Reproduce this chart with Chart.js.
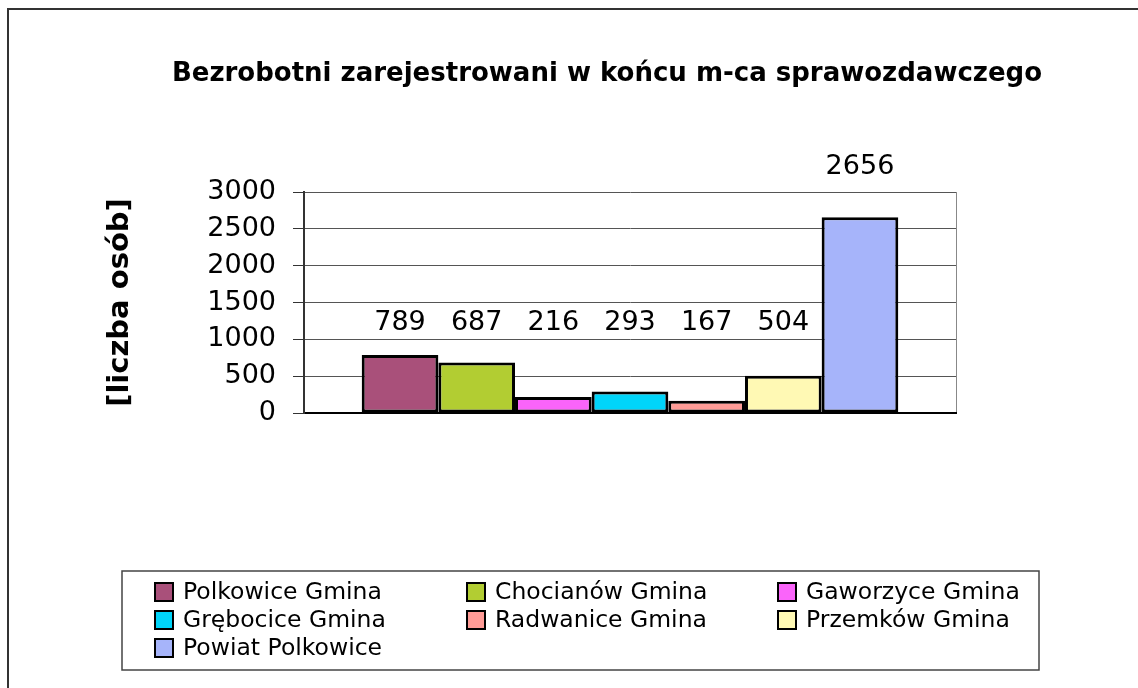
<!DOCTYPE html>
<html>
<head>
<meta charset="utf-8">
<script src="https://cdn.jsdelivr.net/npm/chart.js@4"></script>
<style>
    body { margin: 0; background: #fff; overflow: hidden; }
    #frame {
        position: absolute; left: 7px; top: 8px; width: 1300px; height: 900px;
        border: 2px solid #333; box-sizing: border-box;
    }
    #bezrobocie { position: absolute; left: 0; top: 0; }
</style>
</head>
<body>
<div id="frame"></div>
<canvas id="bezrobocie" width="1138" height="688"></canvas>
<script>
const FONT = '"Comic Sans MS", "DejaVu Sans", sans-serif';

const chartTitle = "Bezrobotni zarejestrowani w końcu m-ca sprawozdawczego";
const axisTitle = "[liczba osób]";
const categories = [""];
const seriesNames = [
    "Polkowice Gmina", "Chocianów Gmina", "Gaworzyce Gmina",
    "Grębocice Gmina", "Radwanice Gmina", "Przemków Gmina", "Powiat Polkowice"
];
const seriesValues = [789, 687, 216, 293, 167, 504, 2656];
const seriesColors = ["#A9507A", "#B2CD32", "#FA64FA", "#00D5FA", "#FF9B96", "#FFF9B4", "#A6B4FA"];
const yTicks = [0, 500, 1000, 1500, 2000, 2500, 3000];

// title drawn by hand so it can sit off-centre like the original
const titlePlugin = {
    id: "titleText",
    afterDraw(chart) {
        const ctx = chart.ctx;
        ctx.save();
        ctx.font = "bold 26px " + FONT;
        ctx.fillStyle = "#000";
        ctx.textAlign = "center";
        ctx.textBaseline = "alphabetic";
        ctx.fillText(chartTitle, 607, 81);
        ctx.restore();
    }
};

// value labels above bars
const valueLabels = {
    id: "valueLabels",
    afterDatasetsDraw(chart) {
        const ctx = chart.ctx;
        const yScale = chart.scales.y;
        const common = yScale.getPixelForValue(1220);
        ctx.save();
        ctx.font = "27px " + FONT;
        ctx.fillStyle = "#000";
        ctx.textAlign = "center";
        ctx.textBaseline = "middle";
        chart.data.datasets.forEach((ds, i) => {
            const bar = chart.getDatasetMeta(i).data[0];
            const y = common < bar.y - 20 ? common : bar.y - 50;
            ctx.fillText(String(ds.data[0]), bar.x, y);
        });
        ctx.restore();
    }
};

// Excel style legend in a 3 column grid
const gridLegend = {
    id: "gridLegend",
    afterDraw(chart) {
        const ctx = chart.ctx;
        const cols = [154, 466, 777];
        const rows = [592, 620, 648];
        ctx.save();
        ctx.strokeStyle = "#444";
        ctx.lineWidth = 1.5;
        ctx.strokeRect(122, 571, 917, 99);
        ctx.font = "23.5px " + FONT;
        ctx.textBaseline = "middle";
        ctx.textAlign = "left";
        chart.data.datasets.forEach((ds, i) => {
            const x = cols[i % 3];
            const y = rows[Math.floor(i / 3)];
            ctx.fillStyle = ds.backgroundColor;
            ctx.fillRect(x, y - 10, 20, 20);
            ctx.strokeStyle = "#000";
            ctx.lineWidth = 2;
            ctx.strokeRect(x + 1, y - 9, 18, 18);
            ctx.fillStyle = "#000";
            ctx.fillText(ds.label, x + 29, y + 1);
        });
        ctx.restore();
    }
};

const chart = new Chart("bezrobocie", {
    type: "bar",
    data: {
        labels: categories,
        datasets: seriesNames.map((name, i) => ({
            label: name,
            data: [seriesValues[i]],
            backgroundColor: seriesColors[i],
            borderColor: "#000",
            borderWidth: 3,
            borderSkipped: false
        }))
    },
    options: {
        responsive: false,
        animation: false,
        devicePixelRatio: 1,
        barPercentage: 1,
        categoryPercentage: 0.823,
        layout: {
            padding: { left: 100, top: 192, right: 182, bottom: 275 }
        },
        plugins: {
            legend: { display: false },
            title: { display: false },
            tooltip: { enabled: false }
        },
        scales: {
            x: {
                ticks: { display: false },
                grid: { display: true, offset: true, color: "#888", drawTicks: false },
                border: { display: true, color: "#000", width: 2 },
                afterFit: (s) => { s.height = 0; }
            },
            y: {
                min: 0,
                max: 3000,
                afterBuildTicks: (s) => { s.ticks = yTicks.map(v => ({ value: v })); },
                ticks: {
                    font: { family: FONT, size: 27 },
                    color: "#000",
                    padding: 17,
                    callback: (v) => String(v)
                },
                grid: { color: "#555", tickLength: 11, tickColor: "#333" },
                border: { color: "#333", width: 2 },
                title: {
                    display: true,
                    text: axisTitle,
                    color: "#000",
                    font: { family: FONT, size: 29, weight: "bold" },
                    padding: { top: 3, bottom: 0 }
                },
                afterFit: (s) => { s.width = 204; }
            }
        }
    },
    plugins: [titlePlugin, valueLabels, gridLegend]
});
</script>
</body>
</html>
